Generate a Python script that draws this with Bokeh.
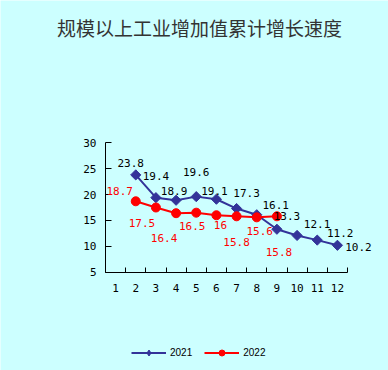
from bokeh.plotting import figure
from bokeh.models import (ColumnDataSource, LabelSet, Label, Legend, LegendItem,
                          FixedTicker, Range1d)
from bokeh.core.properties import value
from bokeh.embed import file_html
from bokeh.resources import INLINE

# ---- data ----
title_text = "规模以上工业增加值累计增长速度"
months = list(range(1, 13))
month_labels = [str(m) for m in months]
months_2021 = [2, 3, 4, 5, 6, 7, 8, 9, 10, 11, 12]
growth_2021 = [23.8, 19.4, 18.9, 19.6, 19.1, 17.3, 16.1, 13.3, 12.1, 11.2, 10.2]
months_2022 = [2, 3, 4, 5, 6, 7, 8, 9]
growth_2022 = [18.7, 17.5, 16.4, 16.5, 16.0, 15.8, 15.6, 15.8]
series_names = ["2021", "2022"]
y_ticks = [5, 10, 15, 20, 25, 30]

# ---- label placement (pixels, +x right, +y up) ----
dx_2021 = [-5, 0, -2, 0, -2, 10, 19, 10, 20, 23, 21]
dy_2021 = [12, 22, 9, 25, 8, 16, 10, 13, 11, 7, -2]
dx_2022 = [-16, -14, -12, -4, 4, 0, 3, 2]
dy_2022 = [10, -15, -25, -13, -10, -26, -14, -36]

BG = "#CCFFFF"
BLUE = "#333399"
RED = "#FF0000"
NUM_FONT = "DejaVu Sans Mono"

W, H = 388, 370
# axis box in pixels: x 0.5..12.5 -> 105..347, y 5..30 -> 271.7..142.3
px_x = (347 - 105) / 12.0
px_y = (271.7 - 142.3) / 25.0
x0 = 0.5 - 105 / px_x
x1 = 12.5 + (W - 347) / px_x
y1 = 30 + 142.3 / px_y
y0 = 5 - (H - 271.7) / px_y

p = figure(width=W, height=H, output_backend="svg", toolbar_location=None,
           x_range=Range1d(x0, x1), y_range=Range1d(y0, y1),
           min_border_left=0, min_border_right=0,
           min_border_top=0, min_border_bottom=0)
p.background_fill_color = BG
p.border_fill_color = BG
p.outline_line_color = None
p.xgrid.visible = False
p.ygrid.visible = False

# axes
p.xaxis.fixed_location = 5
p.xaxis.bounds = (0.5, 12.5)
p.xaxis.ticker = FixedTicker(ticks=months, minor_ticks=[m - 0.5 for m in months] + [12.5])
p.xaxis.major_label_overrides = {m: l for m, l in zip(months, month_labels)}
p.xaxis.major_tick_in = 0
p.xaxis.major_tick_out = 0
p.xaxis.minor_tick_in = 5
p.xaxis.minor_tick_out = 0
p.xaxis.minor_tick_line_color = "black"
p.xaxis.major_label_standoff = 12
p.yaxis.fixed_location = 0.5
p.yaxis.bounds = (5, 30)
p.yaxis.ticker = FixedTicker(ticks=y_ticks)
p.yaxis.major_tick_in = 6
p.yaxis.major_tick_out = 0
p.yaxis.minor_tick_line_color = None
p.yaxis.major_label_standoff = 9
for ax in (p.xaxis, p.yaxis):
    ax.axis_line_color = "black"
    ax.major_tick_line_color = "black"
    ax.major_label_text_font = NUM_FONT
    ax.major_label_text_font_size = "11px"
    ax.major_label_text_color = "black"

src21 = ColumnDataSource(dict(x=months_2021, y=growth_2021,
                              t=[f"{v:g}" for v in growth_2021],
                              dx=dx_2021, dy=dy_2021))
src22 = ColumnDataSource(dict(x=months_2022, y=growth_2022,
                              t=[f"{v:g}" for v in growth_2022],
                              dx=dx_2022, dy=dy_2022))

l21 = p.line("x", "y", source=src21, line_color=BLUE, line_width=2)
s21 = p.scatter("x", "y", source=src21, marker="square", angle=0.785398,
                size=7.2, fill_color=BLUE, line_color=BLUE)
l22 = p.line("x", "y", source=src22, line_color=RED, line_width=2)
s22 = p.scatter("x", "y", source=src22, marker="circle", size=9,
                fill_color=RED, line_color=RED)

# hidden marker renderers used only for the legend symbols
k21 = p.scatter("x", "y", source=src21, marker="diamond", size=8,
                fill_color=BLUE, line_color=BLUE, visible=False)
k22 = p.scatter("x", "y", source=src22, marker="circle", size=6,
                fill_color=RED, line_color=RED, visible=False)

lab21 = LabelSet(x="x", y="y", text="t", source=src21, x_offset="dx", y_offset="dy",
                 text_align="center", text_baseline="middle",
                 text_font=value(NUM_FONT), text_font_size="11px", text_color="black")
lab22 = LabelSet(x="x", y="y", text="t", source=src22, x_offset="dx", y_offset="dy",
                 text_align="center", text_baseline="middle",
                 text_font=value(NUM_FONT), text_font_size="11px", text_color=RED)
p.add_layout(lab21)
p.add_layout(lab22)

# title as a label above the plot box
p.add_layout(Label(x=x0 + 199 / px_x, y=y1 - 26.5 / px_y, text=title_text,
                   text_align="center", text_baseline="middle",
                   text_font="Noto Sans CJK SC", text_font_size="19px",
                   text_color="#333333"))

legend = Legend(items=[LegendItem(label=series_names[0], renderers=[l21, k21]),
                       LegendItem(label=series_names[1], renderers=[l22, k22])],
                location=(131, 10), orientation="horizontal",
                glyph_width=35, glyph_height=15, label_standoff=4, spacing=12,
                padding=0, margin=0, border_line_color=None,
                background_fill_alpha=0, inactive_fill_alpha=0,
                label_text_font_size="10px", label_text_font="Liberation Sans",
                label_text_color="black")
p.add_layout(legend, "center")

open("out.html", "w").write(file_html(p, INLINE))
